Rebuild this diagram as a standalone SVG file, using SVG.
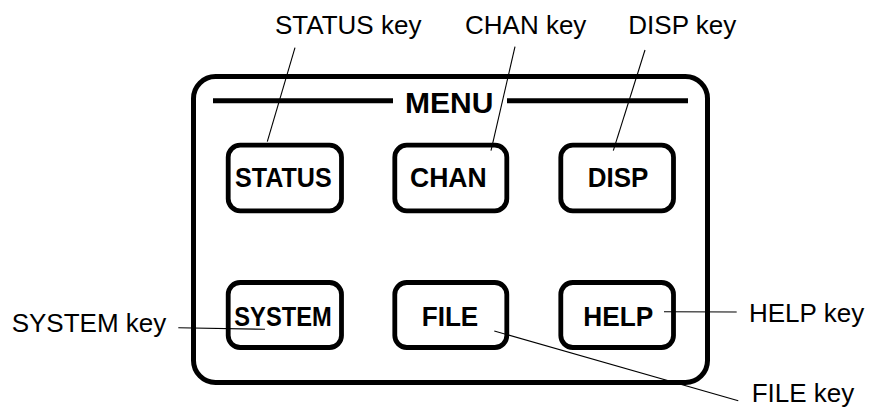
<svg xmlns="http://www.w3.org/2000/svg" width="870" height="408" viewBox="0 0 870 408">
<style>
.frame{fill:none;stroke:#000;stroke-width:5}
.key rect{fill:#fff;stroke:#000;stroke-width:4.8}
.key text{font-family:"Liberation Sans",Arial,sans-serif;font-weight:bold;font-size:28px;fill:#000}
.lbl{font-family:"Liberation Sans",Arial,sans-serif;font-size:26px;fill:#000}
.lead{stroke:#000;stroke-width:1.1;fill:none}
</style>
<rect width="870" height="408" fill="#fff"/>
<g id="panel">
<rect class="frame" x="193.5" y="76.5" width="514" height="306" rx="22"/>
<line x1="213" y1="100.8" x2="393" y2="100.8" stroke="#000" stroke-width="5"/>
<line x1="507" y1="100.8" x2="688" y2="100.8" stroke="#000" stroke-width="5"/>
<text x="405" y="113.3" font-family="'Liberation Sans',Arial,sans-serif" font-weight="bold" font-size="30">MENU</text>
</g>
<g id="status" class="key"><rect x="228.2" y="145.2" width="113.3" height="65.6" rx="12"/><text x="235" y="186.7" textLength="96.7" lengthAdjust="spacingAndGlyphs">STATUS</text></g>
<g id="chan" class="key"><rect x="394.8" y="145.2" width="112" height="65.6" rx="12"/><text x="410" y="186.7" textLength="76.7" lengthAdjust="spacingAndGlyphs">CHAN</text></g>
<g id="disp" class="key"><rect x="560.8" y="145.2" width="112.7" height="65.6" rx="12"/><text x="587.7" y="186.7" textLength="60.6" lengthAdjust="spacingAndGlyphs">DISP</text></g>
<g id="system" class="key"><rect x="228.2" y="282.5" width="113.3" height="65" rx="12"/><text x="234.3" y="325.7" textLength="97.4" lengthAdjust="spacingAndGlyphs">SYSTEM</text></g>
<g id="file" class="key"><rect x="394.8" y="282.5" width="112" height="65" rx="12"/><text x="421.7" y="325.7" textLength="56.6" lengthAdjust="spacingAndGlyphs">FILE</text></g>
<g id="help" class="key"><rect x="560.8" y="282.5" width="112.7" height="65" rx="12"/><text x="583.3" y="325.7" textLength="70" lengthAdjust="spacingAndGlyphs">HELP</text></g>
<g id="connectors">
<line class="lead" x1="295" y1="47.7" x2="267.3" y2="141.7"/>
<line class="lead" x1="515" y1="46.7" x2="491" y2="150.7"/>
<line class="lead" x1="645" y1="50" x2="613.3" y2="150.7"/>
<line class="lead" x1="178.3" y1="327.7" x2="265" y2="329.3"/>
<line class="lead" x1="664" y1="311.7" x2="736.7" y2="312"/>
<line class="lead" x1="494.3" y1="331" x2="738.3" y2="400.7"/>
</g>
<g id="labels">
<text class="lbl" x="275" y="34.3">STATUS key</text>
<text class="lbl" x="465" y="34.3">CHAN key</text>
<text class="lbl" x="628.3" y="34.3">DISP key</text>
<text class="lbl" x="11.7" y="332.3">SYSTEM key</text>
<text class="lbl" x="749" y="321.7">HELP key</text>
<text class="lbl" x="751.7" y="402">FILE key</text>
</g>
</svg>
